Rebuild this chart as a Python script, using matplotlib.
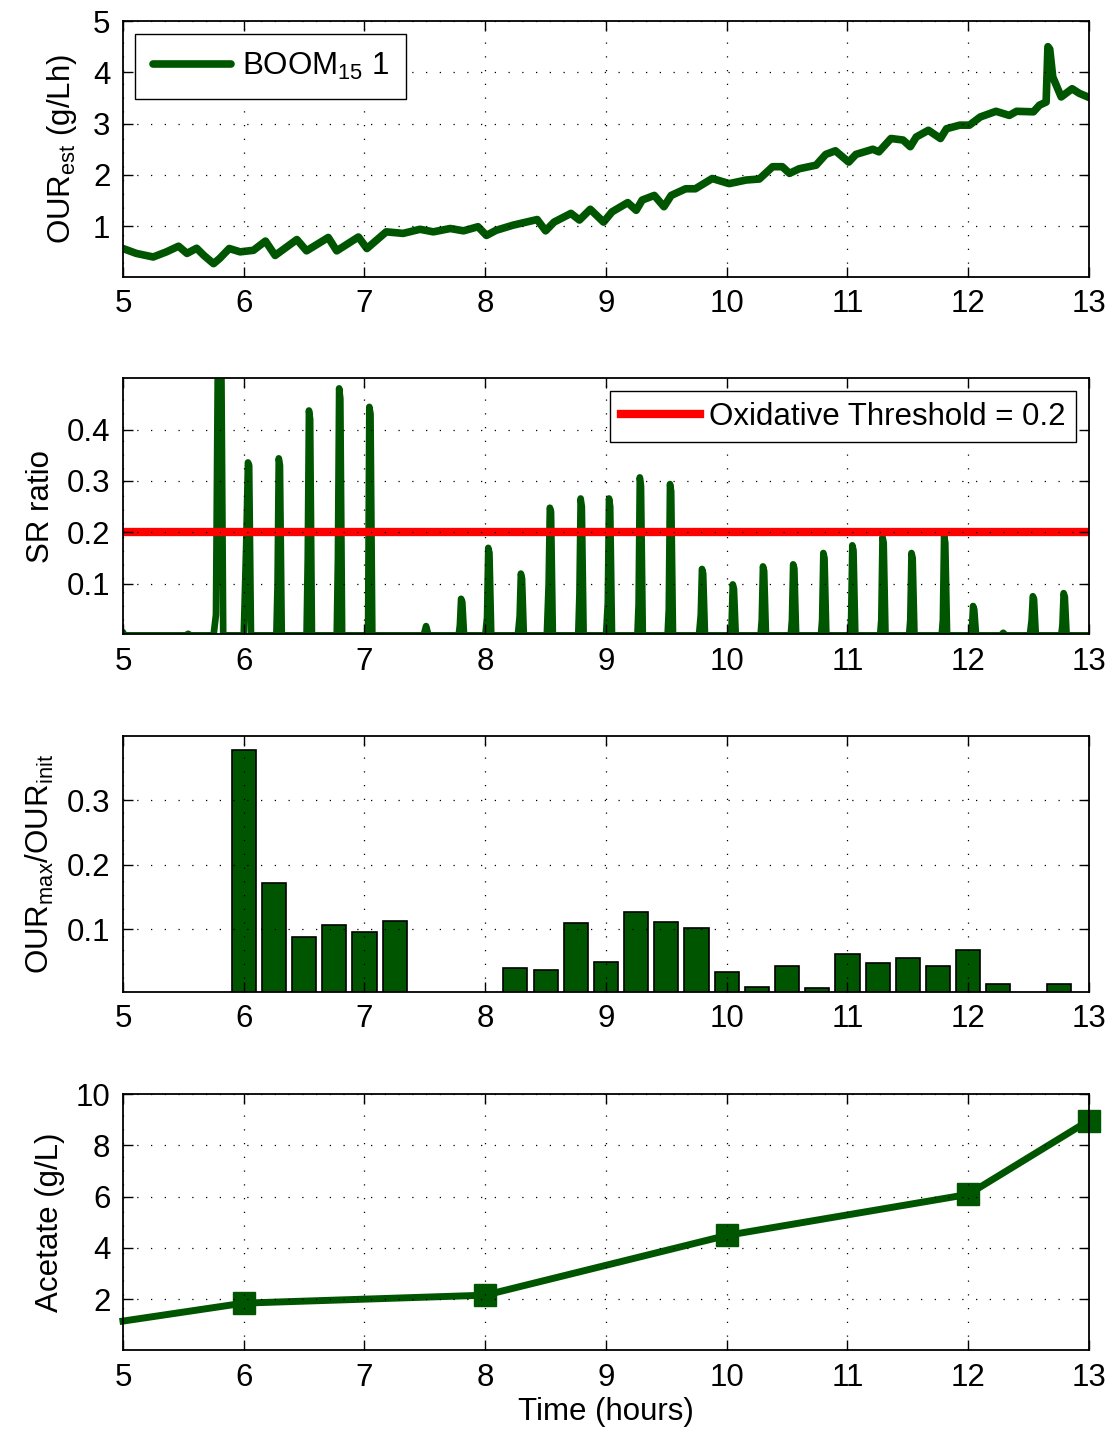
import matplotlib
matplotlib.use("Agg")
import matplotlib.pyplot as plt

plt.rcParams['font.family'] = ['Liberation Sans', 'DejaVu Sans']
plt.rcParams['mathtext.fontset'] = 'custom'
plt.rcParams['mathtext.rm'] = 'Liberation Sans'
plt.rcParams['mathtext.it'] = 'Liberation Sans:italic'
plt.rcParams['mathtext.bf'] = 'Liberation Sans:bold'

GREEN = '#005600'
FS = 22.5

# estimated oxygen uptake rate (g/Lh)
our_t = [5.00, 5.11, 5.25, 5.36, 5.46, 5.53, 5.61, 5.67, 5.75, 5.80, 5.88, 5.97,
         6.08, 6.18, 6.26, 6.44, 6.52, 6.70, 6.77, 6.95, 7.02, 7.18, 7.32, 7.46,
         7.57, 7.71, 7.82, 7.94, 8.01, 8.09, 8.23, 8.43, 8.50, 8.57, 8.71, 8.78,
         8.87, 8.98, 9.05, 9.18, 9.25, 9.30, 9.40, 9.48, 9.54, 9.66, 9.74, 9.88,
         10.02, 10.16, 10.27, 10.38, 10.46, 10.52, 10.60, 10.74, 10.82, 10.90,
         11.01, 11.07, 11.21, 11.26, 11.36, 11.46, 11.52, 11.57, 11.67, 11.77,
         11.82, 11.93, 12.01, 12.10, 12.23, 12.34, 12.40, 12.54, 12.59, 12.645,
         12.66, 12.675, 12.70, 12.77, 12.86, 12.92, 13.00]
our_v = [0.565, 0.47, 0.40, 0.50, 0.61, 0.47, 0.57, 0.43, 0.27, 0.37, 0.565, 0.50,
         0.53, 0.71, 0.43, 0.74, 0.52, 0.78, 0.52, 0.79, 0.565, 0.89, 0.86, 0.94,
         0.89, 0.955, 0.91, 0.99, 0.82, 0.92, 1.02, 1.13, 0.91, 1.08, 1.25, 1.12,
         1.33, 1.08, 1.28, 1.46, 1.31, 1.51, 1.60, 1.38, 1.60, 1.73, 1.73, 1.93,
         1.83, 1.90, 1.92, 2.16, 2.16, 2.03, 2.12, 2.19, 2.40, 2.47,
         2.25, 2.40, 2.50, 2.45, 2.71, 2.68, 2.55, 2.74, 2.87, 2.71,
         2.90, 2.97, 2.97, 3.13, 3.24, 3.16, 3.24, 3.23, 3.36, 3.42,
         4.50, 4.45, 3.91, 3.52, 3.68, 3.59, 3.51]

# SR ratio trace
sr_t = [5.00, 5.01, 5.03, 5.52, 5.54, 5.56,
        5.75, 5.77, 5.785, 5.80, 5.815, 5.83,
        6.00, 6.02, 6.035, 6.045, 6.06,
        6.27, 6.28, 6.29, 6.30, 6.315,
        6.52, 6.53, 6.54, 6.55, 6.565,
        6.77, 6.78, 6.79, 6.80, 6.815,
        7.02, 7.03, 7.04, 7.05, 7.065,
        7.49, 7.51, 7.53,
        7.78, 7.79, 7.80, 7.81, 7.825,
        8.00, 8.015, 8.025, 8.035, 8.05,
        8.27, 8.285, 8.295, 8.305, 8.32,
        8.51, 8.525, 8.535, 8.545, 8.56,
        8.77, 8.78, 8.79, 8.80, 8.815,
        9.00, 9.015, 9.025, 9.035, 9.05,
        9.26, 9.27, 9.28, 9.29, 9.305,
        9.51, 9.52, 9.53, 9.54, 9.555,
        9.77, 9.785, 9.795, 9.805, 9.82,
        10.03, 10.04, 10.05, 10.06, 10.075,
        10.28, 10.29, 10.30, 10.31, 10.325,
        10.53, 10.54, 10.55, 10.56, 10.575,
        10.78, 10.79, 10.80, 10.81, 10.825,
        11.02, 11.03, 11.04, 11.05, 11.065,
        11.27, 11.28, 11.29, 11.30, 11.315,
        11.51, 11.52, 11.53, 11.54, 11.555,
        11.78, 11.79, 11.80, 11.81, 11.825,
        12.02, 12.03, 12.04, 12.05, 12.065,
        12.27, 12.29, 12.31,
        12.51, 12.525, 12.535, 12.545, 12.56,
        12.77, 12.78, 12.79, 12.80, 12.815,
        13.00]
sr_v = [0.006, 0.0, 0.0, 0.0, 0.003, 0.0,
        0.0, 0.04, 0.52, 0.52, 0.52, 0.0,
        0.0, 0.175, 0.336, 0.33, 0.0,
        0.0, 0.10, 0.344, 0.33, 0.0,
        0.0, 0.15, 0.437, 0.42, 0.0,
        0.0, 0.15, 0.480, 0.46, 0.0,
        0.0, 0.02, 0.444, 0.43, 0.0,
        0.0, 0.018, 0.0,
        0.0, 0.02, 0.071, 0.065, 0.0,
        0.0, 0.035, 0.170, 0.16, 0.0,
        0.0, 0.037, 0.120, 0.11, 0.0,
        0.0, 0.10, 0.248, 0.24, 0.0,
        0.0, 0.08, 0.266, 0.25, 0.0,
        0.0, 0.063, 0.266, 0.25, 0.0,
        0.0, 0.06, 0.307, 0.29, 0.0,
        0.0, 0.05, 0.294, 0.28, 0.0,
        0.0, 0.04, 0.129, 0.12, 0.0,
        0.0, 0.02, 0.099, 0.09, 0.0,
        0.0, 0.03, 0.134, 0.125, 0.0,
        0.0, 0.03, 0.138, 0.13, 0.0,
        0.0, 0.03, 0.160, 0.15, 0.0,
        0.0, 0.03, 0.175, 0.165, 0.0,
        0.0, 0.03, 0.191, 0.18, 0.0,
        0.0, 0.03, 0.160, 0.15, 0.0,
        0.0, 0.03, 0.193, 0.18, 0.0,
        0.0, 0.01, 0.057, 0.05, 0.0,
        0.0, 0.005, 0.0,
        0.0, 0.03, 0.076, 0.07, 0.0,
        0.0, 0.02, 0.082, 0.075, 0.0,
        0.0]
threshold = 0.2

# OURmax / OURinit per interval
bar_t = [6.0, 6.25, 6.5, 6.75, 7.0, 7.25, 7.5, 7.75, 8.0, 8.25, 8.5, 8.75,
         9.0, 9.25, 9.5, 9.75, 10.0, 10.25, 10.5, 10.75, 11.0, 11.25, 11.5,
         11.75, 12.0, 12.25, 12.5, 12.75]
bar_h = [0.378, 0.171, 0.087, 0.106, 0.096, 0.112, 0.0, 0.0, 0.0, 0.039, 0.037,
         0.109, 0.049, 0.126, 0.111, 0.101, 0.034, 0.010, 0.042, 0.009, 0.061,
         0.048, 0.055, 0.043, 0.067, 0.014, 0.0, 0.014]

# acetate samples (g/L)
ace_t = [5.0, 6.0, 8.0, 10.0, 12.0, 13.0]
ace_v = [1.15, 1.85, 2.16, 4.49, 6.09, 8.97]

xticks = [5, 6, 7, 8, 9, 10, 11, 12, 13]

fig = plt.figure(figsize=(11.12, 14.3), dpi=100)
left, width, height = 0.1106, 0.8687, 0.1790
bottoms = [0.8063, 0.5566, 0.3063, 0.0559]
axes = [fig.add_axes([left, b, width, height]) for b in bottoms]


def style(ax, ylim, yticks, ylabels):
    ax.set_xlim(5, 13)
    ax.set_ylim(*ylim)
    ax.set_xticks(xticks)
    ax.set_xticklabels([str(v) for v in xticks])
    ax.set_yticks(yticks)
    ax.set_yticklabels(ylabels)
    ax.tick_params(direction='in', length=7, width=1, top=True, right=True,
                   labelsize=FS, pad=9, colors='black')
    ax.grid(True, color='black', linestyle=(0, (1, 10)), linewidth=0.9)
    for s in ax.spines.values():
        s.set_linewidth(1.3)
    ax.set_axisbelow(False)


ax1, ax2, ax3, ax4 = axes

ax1.plot(our_t, our_v, color=GREEN, linewidth=5.5, solid_capstyle='round',
         solid_joinstyle='round', label=r'BOOM$_{15}$ 1')
style(ax1, (0.01, 5), [1, 2, 3, 4, 5], ['1', '2', '3', '4', '5'])
ax1.set_ylabel(r'OUR$_{\mathrm{est}}$ (g/Lh)', fontsize=FS, labelpad=10)
leg1 = ax1.legend(loc='upper left', fontsize=FS, handlelength=2.5,
                  fancybox=False, edgecolor='black', framealpha=1,
                  borderaxespad=0.4, borderpad=0.55, handletextpad=0.35)
leg1.get_frame().set_linewidth(1.0)

ax2.plot(sr_t, sr_v, color=GREEN, linewidth=4.8, solid_capstyle='round',
         solid_joinstyle='round')
ax2.axhline(threshold, color='#ff0000', linewidth=6,
            label='Oxidative Threshold = %.1f' % threshold)
style(ax2, (0.0025, 0.5), [0.1, 0.2, 0.3, 0.4], ['0.1', '0.2', '0.3', '0.4'])
ax2.set_ylabel('SR ratio', fontsize=FS, labelpad=8)
leg2 = ax2.legend(loc='upper right', fontsize=FS, handlelength=2.5,
                  fancybox=False, edgecolor='black', framealpha=1,
                  borderaxespad=0.4, borderpad=0.35, handletextpad=0.3)
leg2.get_frame().set_linewidth(1.0)

ax3.bar(bar_t, bar_h, width=0.2, color=GREEN, edgecolor='black', linewidth=1.2)
style(ax3, (0.0023, 0.4), [0.1, 0.2, 0.3], ['0.1', '0.2', '0.3'])
ax3.set_ylabel(r'OUR$_{\mathrm{max}}$/OUR$_{\mathrm{init}}$', fontsize=FS,
               labelpad=8)

ax4.plot(ace_t, ace_v, color=GREEN, linewidth=5, marker='s', markersize=16,
         markevery=[1, 2, 3, 4, 5], markerfacecolor=GREEN,
         markeredgecolor=GREEN, clip_on=False)
style(ax4, (0.02, 10), [2, 4, 6, 8, 10], ['2', '4', '6', '8', '10'])
ax4.set_ylabel('Acetate (g/L)', fontsize=FS, labelpad=8)
ax4.set_xlabel('Time (hours)', fontsize=FS, labelpad=3)

fig.savefig('out.png', dpi=100)
